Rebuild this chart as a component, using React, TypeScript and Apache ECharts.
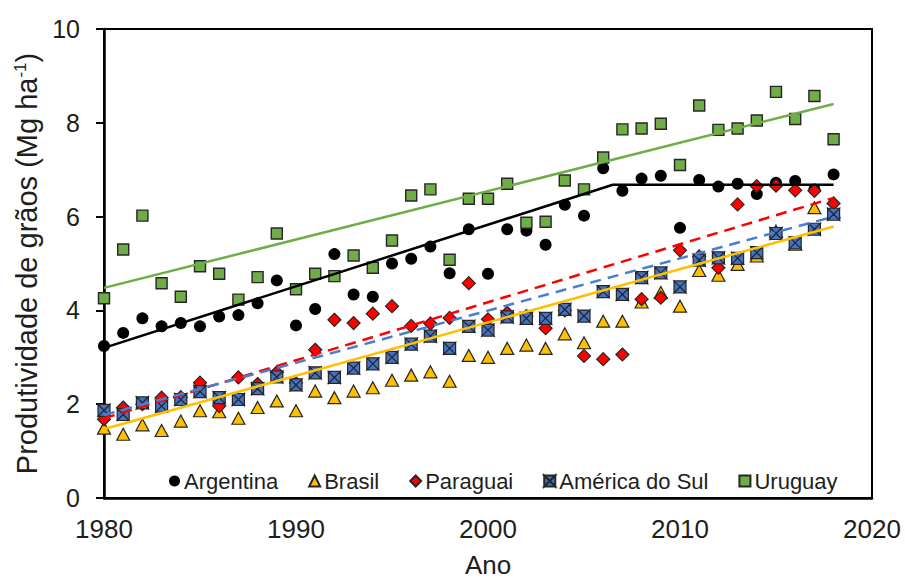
import React, { useEffect, useRef } from "react";
import * as echarts from "echarts";

const years: number[] = [
  1980, 1981, 1982, 1983, 1984, 1985, 1986, 1987, 1988, 1989,
  1990, 1991, 1992, 1993, 1994, 1995, 1996, 1997, 1998, 1999,
  2000, 2001, 2002, 2003, 2004, 2005, 2006, 2007, 2008, 2009,
  2010, 2011, 2012, 2013, 2014, 2015, 2016, 2017, 2018,
];

const argentina: number[] = [
  3.24, 3.52, 3.83, 3.66, 3.73, 3.66, 3.87, 3.9, 4.15, 4.64,
  3.68, 4.03, 5.2, 4.34, 4.29, 5.0, 5.1, 5.36, 4.79, 5.73,
  4.78, 5.73, 5.7, 5.4, 6.25, 6.02, 7.03, 6.55, 6.81, 6.87,
  5.76, 6.78, 6.64, 6.7, 6.48, 6.72, 6.76, 6.58, 6.9,
];

const brasil: number[] = [
  1.49, 1.36, 1.56, 1.44, 1.64, 1.86, 1.84, 1.7, 1.93, 2.07,
  1.86, 2.28, 2.14, 2.28, 2.35, 2.51, 2.62, 2.69, 2.49, 3.04,
  3.0, 3.19, 3.26, 3.19, 3.5, 3.31, 3.77, 3.77, 4.18, 4.38,
  4.09, 4.85, 4.75, 4.98, 5.16, 5.69, 5.41, 6.19, 6.1,
];

const paraguai: number[] = [
  1.68, 1.93, 2.0, 2.14, 2.15, 2.46, 1.96, 2.57, 2.43, 2.68,
  2.45, 3.16, 3.8, 3.73, 3.93, 4.09, 3.67, 3.72, 3.84, 4.58,
  3.81, 3.95, 3.88, 3.62, 4.0, 3.03, 2.96, 3.06, 4.24, 4.27,
  5.28, 5.15, 4.91, 6.26, 6.65, 6.66, 6.56, 6.55, 6.28,
];

const americaDoSul: number[] = [
  1.87, 1.78, 2.03, 1.96, 2.1, 2.27, 2.14, 2.1, 2.33, 2.58,
  2.41, 2.67, 2.57, 2.77, 2.86, 3.0, 3.28, 3.45, 3.19, 3.66,
  3.58, 3.86, 3.83, 3.83, 4.02, 3.88, 4.4, 4.34, 4.7, 4.8,
  4.5, 5.07, 5.12, 5.11, 5.23, 5.64, 5.44, 5.73, 6.05,
];

const uruguay: number[] = [
  4.26, 5.3, 6.02, 4.58, 4.29, 4.94, 4.78, 4.23, 4.71, 5.64,
  4.45, 4.78, 4.73, 5.17, 4.91, 5.49, 6.45, 6.58, 5.08, 6.38,
  6.38, 6.7, 5.87, 5.89, 6.77, 6.58, 7.26, 7.86, 7.88, 7.98,
  7.1, 8.37, 7.85, 7.88, 8.05, 8.66, 8.08, 8.57, 7.65,
];

// Trend lines (start / end points)
const trendUruguay: [number, number][] = [[1980, 4.48], [2018, 8.4]];
const trendArgentina: [number, number][] = [[1980, 3.2], [2006.5, 6.68], [2018, 6.68]];
const trendBrasil: [number, number][] = [[1980, 1.47], [2018, 5.79]];
const trendParaguai: [number, number][] = [[1980, 1.7], [2018, 6.4]];
const trendAmerica: [number, number][] = [[1980, 1.77], [2018, 6.0]];

const xTicks = { min: 1980, max: 2020, interval: 10 };
const yTicks = { min: 0, max: 10, interval: 2 };

const FONT = "'Liberation Sans', Arial, sans-serif";
const TXT = "#1e1e1e";
const EDGE = "#262626";

const crossSquare =
  "path://M0,0L10,0L5,5Z M10,0L10,10L5,5Z M10,10L0,10L5,5Z M0,10L0,0L5,5Z";

const pair = (vals: number[]) => years.map((y, i) => [y, vals[i]]);

export default function App() {
  const ref = useRef<HTMLDivElement>(null);

  useEffect(() => {
    if (!ref.current) return;
    const chart = echarts.init(ref.current, null, { renderer: "svg" });
    const trend = (data: [number, number][], color: string, dashed: boolean) => ({
      type: "line",
      data,
      symbol: "none",
      silent: true,
      z: 5,
      lineStyle: { color, width: 2.5, type: dashed ? [11, 7] : "solid" },
    });
    chart.setOption({
      animation: false,
      textStyle: { fontFamily: FONT },
      grid: {
        left: 104,
        right: 33,
        top: 29,
        bottom: 84,
        containLabel: false,
        outerBoundsMode: "none",
        show: true,
        borderColor: "#000",
        borderWidth: 2,
        backgroundColor: "transparent",
      },
      legend: {
        data: ["Argentina", "Brasil", "Paraguai", "América do Sul", "Uruguay"],
        left: 169,
        top: 470,
        itemWidth: 11,
        itemHeight: 11,
        itemGap: 30,
        padding: 0,
        textStyle: { fontFamily: FONT, fontSize: 22, color: TXT, padding: [0, 0, 0, -1] },
      },
      xAxis: {
        type: "value",
        min: xTicks.min,
        max: xTicks.max,
        interval: xTicks.interval,
        name: "Ano",
        nameLocation: "middle",
        nameGap: 53,
        nameTextStyle: { fontFamily: FONT, fontSize: 26, color: TXT, lineHeight: 28 },
        axisLine: { show: true, lineStyle: { color: "#000", width: 2.5 } },
        axisTick: { show: false },
        splitLine: { show: false },
        axisLabel: {
          fontFamily: FONT,
          fontSize: 26,
          color: TXT,
          margin: 18,
          formatter: (v: number) => String(v),
        },
      },
      yAxis: {
        type: "value",
        min: yTicks.min,
        max: yTicks.max,
        interval: yTicks.interval,
        name: "Produtividade de grãos (Mg ha{sup|-1})",
        nameLocation: "middle",
        nameGap: 58,
        nameTextStyle: {
          fontFamily: FONT,
          fontSize: 29,
          color: TXT,
          rich: {
            sup: { fontFamily: FONT, fontSize: 17, color: TXT, verticalAlign: "top", lineHeight: 17 },
          },
        },
        axisLine: { show: true, lineStyle: { color: "#000", width: 2.5 } },
        axisTick: { show: true, inside: false, length: 8, lineStyle: { color: "#000", width: 2 } },
        splitLine: { show: false },
        axisLabel: { fontFamily: FONT, fontSize: 25, color: TXT, margin: 24 },
      },
      series: [
        {
          name: "Argentina",
          type: "scatter",
          data: pair(argentina),
          symbol: "circle",
          symbolSize: 12,
          itemStyle: { color: "#000000", opacity: 1 },
          z: 2,
        },
        {
          name: "Brasil",
          type: "scatter",
          data: pair(brasil),
          symbol: "triangle",
          symbolSize: [13, 12],
          itemStyle: { color: "#FFC000", borderColor: EDGE, borderWidth: 1.2, opacity: 1 },
          z: 2,
        },
        {
          name: "Paraguai",
          type: "scatter",
          data: pair(paraguai),
          symbol: "diamond",
          symbolSize: 13,
          itemStyle: { color: "#FF0000", borderColor: EDGE, borderWidth: 1.2, opacity: 1 },
          z: 2,
        },
        {
          name: "América do Sul",
          type: "scatter",
          data: pair(americaDoSul),
          symbol: crossSquare,
          symbolSize: 12,
          itemStyle: { color: "#4472C4", borderColor: EDGE, borderWidth: 1.2, opacity: 1 },
          z: 2,
        },
        {
          name: "Uruguay",
          type: "scatter",
          data: pair(uruguay),
          symbol: "rect",
          symbolSize: 11,
          itemStyle: { color: "#70AD47", borderColor: EDGE, borderWidth: 1.4, opacity: 1 },
          z: 2,
        },
        trend(trendUruguay, "#70AD47", false),
        trend(trendArgentina, "#000000", false),
        trend(trendBrasil, "#FFC000", false),
        trend(trendParaguai, "#FF0000", true),
        trend(trendAmerica, "#4A7FD0", true),
      ],
    });
    return () => chart.dispose();
  }, []);

  return <div ref={ref} style={{ width: 905, height: 582, position: "absolute", left: 0, top: 0 }} />;
}
